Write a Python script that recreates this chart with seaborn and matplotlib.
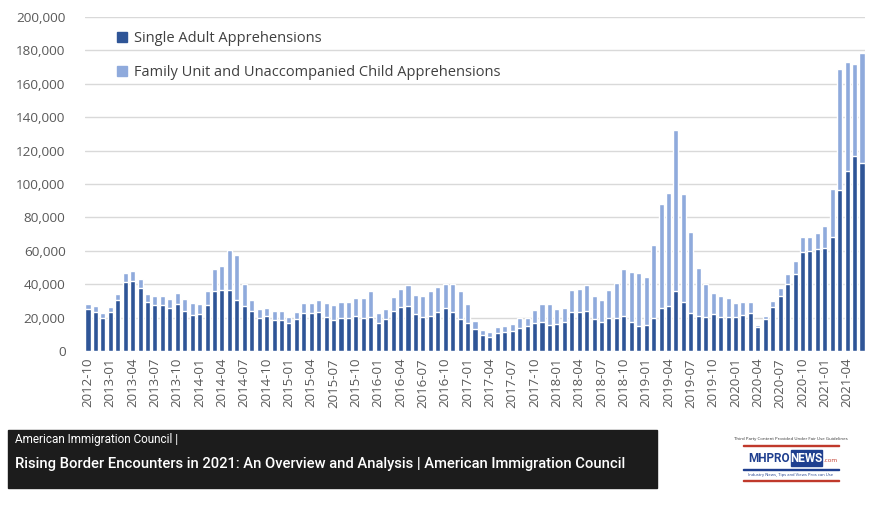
import numpy as np
import pandas as pd
import matplotlib
matplotlib.use("Agg")
import matplotlib.pyplot as plt
import seaborn as sns
from matplotlib.patches import Rectangle, Patch
from matplotlib.ticker import FuncFormatter

# ---- data (thousands of apprehensions, monthly 2012-10 .. 2021-06) ----
months = list(pd.period_range("2012-10", "2021-06", freq="M").strftime("%Y-%m"))

single_adult = [
    25.2, 23.6, 19.8, 23.4, 30.6, 41.2, 42.2, 38.0, 29.2, 27.4, 27.6, 25.8,
    28.2, 24.2, 21.4, 22.0, 27.8, 36.2, 36.8, 36.8, 30.4, 27.0, 24.0, 20.0,
    20.8, 18.6, 18.4, 16.8, 19.0, 23.0, 22.6, 23.2, 20.6, 18.8, 19.6, 19.8,
    20.8, 20.0, 20.4, 16.8, 19.2, 23.8, 26.4, 26.9, 22.4, 20.2, 21.0, 23.4,
    25.5, 23.6, 19.2, 17.0, 13.1, 9.3, 8.3, 10.5, 11.1, 11.7, 13.9, 14.7,
    16.8, 17.2, 15.8, 16.0, 17.2, 23.3, 23.4, 23.8, 18.9, 17.3, 19.5, 19.5,
    21.0, 17.1, 14.7, 15.3, 19.7, 25.6, 26.8, 35.9, 29.4, 23.0, 21.0, 20.5,
    22.0, 20.4, 20.1, 20.5, 21.7, 22.9, 14.1, 18.9, 26.5, 33.2, 40.4, 46.4,
    59.1, 59.9, 61.3, 61.9, 68.3, 96.5, 107.9, 116.8, 112.8,
]
family_uac = [
    3.0, 3.4, 2.8, 3.0, 3.8, 5.6, 5.8, 5.4, 4.8, 5.4, 5.6, 5.6,
    6.8, 7.2, 7.6, 6.0, 8.0, 13.0, 14.2, 23.6, 27.0, 13.2, 6.5, 5.0,
    4.7, 5.2, 5.8, 3.8, 4.4, 5.9, 6.3, 7.5, 7.9, 8.7, 9.7, 9.5,
    11.1, 11.9, 15.8, 6.0, 5.9, 8.5, 10.6, 12.5, 11.3, 12.7, 15.2, 15.2,
    14.7, 16.6, 17.0, 10.9, 4.7, 3.4, 3.0, 3.8, 3.9, 4.3, 5.9, 5.1,
    8.0, 11.1, 12.5, 9.1, 8.5, 13.0, 13.9, 15.7, 14.3, 13.3, 17.2, 21.2,
    28.3, 30.4, 32.2, 29.2, 43.5, 62.2, 67.9, 96.4, 64.7, 48.1, 29.0, 19.4,
    12.5, 12.4, 11.9, 8.0, 7.6, 6.4, 1.4, 2.0, 3.4, 4.4, 5.8, 7.7,
    9.4, 8.6, 9.3, 12.9, 28.6, 72.5, 65.4, 55.1, 65.5,
]
series_labels = ["Single Adult Apprehensions",
                 "Family Unit and Unaccompanied Child Apprehensions"]
y_ticks = list(range(0, 200001, 20000))

DARK = "#2F5597"
LIGHT = "#8FAADC"
GRAY_TXT = "#595959"

df = pd.DataFrame({
    "month": months,
    "single": np.array(single_adult) * 1000,
    "family": np.array(family_uac) * 1000,
})
df["total"] = df["single"] + df["family"]

sns.set_style("white")
plt.rcParams["font.family"] = ["Open Sans", "DejaVu Sans"]

fig = plt.figure(figsize=(8.82, 5.07), dpi=100)
ax = fig.add_axes([85 / 882, 1 - 351 / 507, 780 / 882, 334 / 507])

sns.barplot(data=df, x="month", y="total", color=LIGHT, saturation=1,
            width=0.68, ax=ax, order=months)
sns.barplot(data=df, x="month", y="single", color=DARK, saturation=1,
            width=0.68, ax=ax, order=months)

ax.set_xlim(-0.4, len(months) - 0.6)
ax.set_ylim(0, 200000)
ax.set_yticks(y_ticks)
ax.yaxis.set_major_formatter(FuncFormatter(lambda v, p: f"{int(v):,}"))
ax.set_xticks(range(0, len(months), 3))
ax.set_xticklabels(months[::3], rotation=90)
ax.tick_params(axis="y", length=0, pad=14, labelsize=9.7, labelcolor=GRAY_TXT)
ax.tick_params(axis="x", length=0, pad=5, labelsize=9.5, labelcolor=GRAY_TXT)
ax.set_xlabel("")
ax.set_ylabel("")
ax.yaxis.grid(True, color="#D9D9D9", lw=1)
ax.set_axisbelow(True)
for s in ax.spines.values():
    s.set_visible(False)

handles = [Patch(color=DARK), Patch(color=LIGHT)]
leg = ax.legend(handles, series_labels, loc="upper left",
                bbox_to_anchor=(110 / 882, 1 - 24 / 507),
                bbox_transform=fig.transFigure, frameon=False,
                fontsize=10.5, handlelength=0.65, handleheight=0.65,
                handletextpad=0.5, labelspacing=1.3, borderpad=0)
for t in leg.get_texts():
    t.set_color("#404040")

# ---- bottom caption box ----
fig.patches.append(Rectangle((8 / 882, 1 - 488 / 507), 649 / 882, 58 / 507,
                             transform=fig.transFigure, color="#1c1c1c",
                             zorder=0))
fig.text(15 / 882, 1 - 440 / 507, "American Immigration Council |",
         color="white", fontsize=8.5, va="center", ha="left",
         family=["Roboto", "DejaVu Sans"])
fig.text(15 / 882, 1 - 464 / 507,
         "Rising Border Encounters in 2021: An Overview and Analysis | American Immigration Council",
         color="white", fontsize=10.6, va="center", ha="left", weight="medium",
         family=["Roboto", "DejaVu Sans"])

# ---- small logo approximation ----
fig.text(791 / 882, 1 - 439 / 507,
         "Third Party Content Provided Under Fair Use Guidelines",
         fontsize=3.2, color="#333333", ha="center", va="center")
fig.patches.append(Rectangle((743 / 882, 1 - 446 / 507), 96 / 882, 1.2 / 507,
                             transform=fig.transFigure, color="#c0392b"))
fig.text(748 / 882, 1 - 458 / 507, "MHPRO", fontsize=8.5, weight="bold",
         color="#1f3f8f", ha="left", va="center",
         family=["Roboto", "DejaVu Sans"])
fig.patches.append(Rectangle((791 / 882, 1 - 466 / 507), 31 / 882, 16 / 507,
                             transform=fig.transFigure, color="#1f3f8f"))
fig.text(806.5 / 882, 1 - 458 / 507, "NEWS", fontsize=8.5, weight="bold",
         color="white", ha="center", va="center",
         family=["Roboto", "DejaVu Sans"])
fig.text(824 / 882, 1 - 461 / 507, ".com", fontsize=4.5, color="#c0392b",
         ha="left", va="center")
fig.patches.append(Rectangle((743 / 882, 1 - 470 / 507), 96 / 882, 1.2 / 507,
                             transform=fig.transFigure, color="#1f3f8f"))
fig.text(791 / 882, 1 - 475 / 507, "Industry News, Tips and Views Pros can Use",
         fontsize=3, color="#1f3f8f", ha="center", va="center")
fig.patches.append(Rectangle((743 / 882, 1 - 481 / 507), 96 / 882, 1.2 / 507,
                             transform=fig.transFigure, color="#c0392b"))

fig.savefig("out.png", dpi=100)
